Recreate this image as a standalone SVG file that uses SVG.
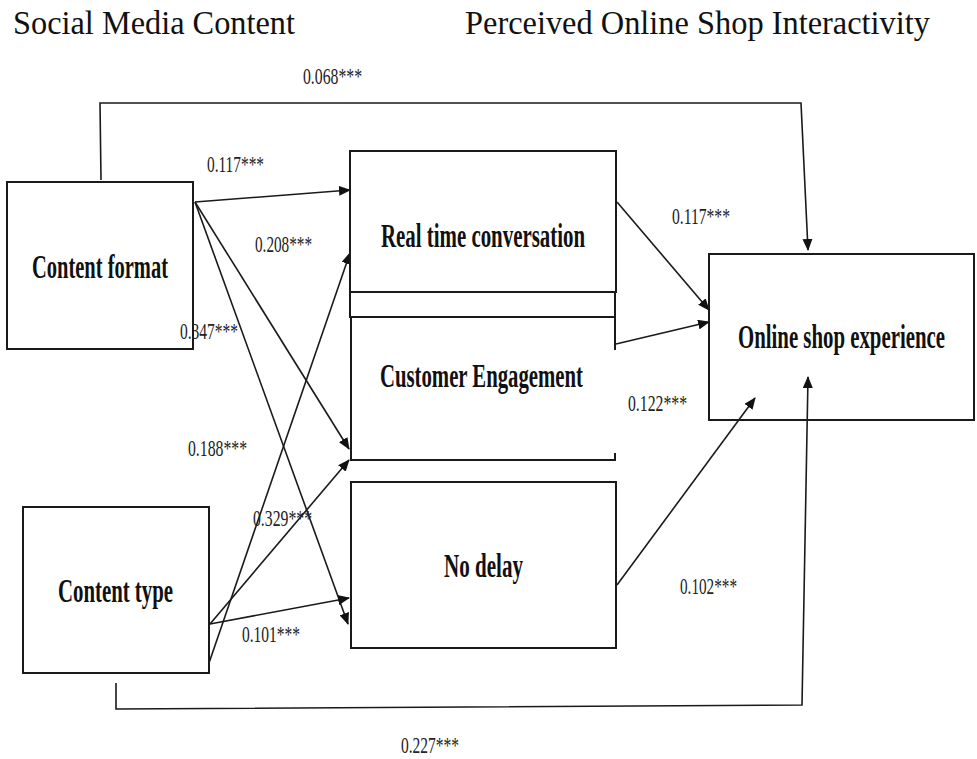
<svg xmlns="http://www.w3.org/2000/svg" width="977" height="759" viewBox="0 0 977 759">
<style>
.box{fill:none;stroke:#1a1a1a;stroke-width:2}
.edge{fill:none;stroke:#1a1a1a;stroke-width:1.6}
.head{font-family:"Liberation Serif",serif;font-size:33px;fill:#111}
.node{font-family:"Liberation Serif",serif;font-weight:bold;font-size:33px;fill:#111}
.lbl{font-family:"Liberation Serif",serif;font-size:23px;fill:#222}
</style>
<defs>
<marker id="arr" markerUnits="userSpaceOnUse" markerWidth="12" markerHeight="10" refX="11" refY="5" orient="auto">
<path d="M0,0 L12,5 L0,10 z" fill="#111"/>
</marker>
</defs>
<rect width="977" height="759" fill="#fff"/>
<text class="head" x="13" y="34" textLength="282" lengthAdjust="spacingAndGlyphs">Social Media Content</text>
<text class="head" x="465" y="34" textLength="465" lengthAdjust="spacingAndGlyphs">Perceived Online Shop Interactivity</text>
<g id="connectors">
<path class="edge" d="M101,180 L100,103 L801,103 L808,250" marker-end="url(#arr)"/>
<path class="edge" d="M116,683 L116,709 L802,705 L808,377" marker-end="url(#arr)"/>
<path class="edge" d="M195,202 L350,190" marker-end="url(#arr)"/>
<path class="edge" d="M195,202 L349,449" marker-end="url(#arr)"/>
<path class="edge" d="M195,202 L348,624" marker-end="url(#arr)"/>
<path class="edge" d="M210,624 L349,598" marker-end="url(#arr)"/>
<path class="edge" d="M210,624 L349,460" marker-end="url(#arr)"/>
<path class="edge" d="M209,663 L350,253" marker-end="url(#arr)"/>
<path class="edge" d="M617,202 L709,310" marker-end="url(#arr)"/>
<path class="edge" d="M616,344 L709,322" marker-end="url(#arr)"/>
<path class="edge" d="M617,585 L755,398" marker-end="url(#arr)"/>
</g>
<g id="content-format">
<rect class="box" x="7" y="182" width="186" height="167"/>
<text class="node" x="32" y="278" textLength="136" lengthAdjust="spacingAndGlyphs">Content format</text>
</g>
<g id="content-type">
<rect class="box" x="23" y="507" width="186" height="166"/>
<text class="node" x="58" y="602" textLength="115" lengthAdjust="spacingAndGlyphs">Content type</text>
</g>
<g id="real-time-conversation">
<rect class="box" x="350" y="151" width="266" height="141"/>
<text class="node" x="381" y="247" textLength="204" lengthAdjust="spacingAndGlyphs">Real time conversation</text>
</g>
<g id="strip">
<rect class="box" x="350" y="292" width="265" height="25"/>
</g>
<g id="customer-engagement">
<path d="M351,317 L351,460 L615,460 L615,453 M615,317 L615,350" fill="none" stroke="#1a1a1a" stroke-width="2"/>
<text class="node" x="380" y="387" textLength="203" lengthAdjust="spacingAndGlyphs">Customer Engagement</text>
</g>
<g id="no-delay">
<rect class="box" x="351" y="482" width="265" height="166"/>
<text class="node" x="444" y="577" textLength="79" lengthAdjust="spacingAndGlyphs">No delay</text>
</g>
<g id="online-shop-experience">
<rect class="box" x="709" y="254" width="265" height="166"/>
<text class="node" x="738" y="348" textLength="207" lengthAdjust="spacingAndGlyphs">Online shop experience</text>
</g>
<g id="labels">
<text class="lbl" x="303" y="84" textLength="59" lengthAdjust="spacingAndGlyphs">0.068***</text>
<text class="lbl" x="207" y="172" textLength="57" lengthAdjust="spacingAndGlyphs">0.117***</text>
<text class="lbl" x="255" y="252" textLength="57" lengthAdjust="spacingAndGlyphs">0.208***</text>
<text class="lbl" x="180" y="339" textLength="58" lengthAdjust="spacingAndGlyphs">0.347***</text>
<text class="lbl" x="188" y="456" textLength="59" lengthAdjust="spacingAndGlyphs">0.188***</text>
<text class="lbl" x="253" y="526" textLength="59" lengthAdjust="spacingAndGlyphs">0.329***</text>
<text class="lbl" x="242" y="642" textLength="58" lengthAdjust="spacingAndGlyphs">0.101***</text>
<text class="lbl" x="672" y="224" textLength="58" lengthAdjust="spacingAndGlyphs">0.117***</text>
<text class="lbl" x="628" y="411" textLength="59" lengthAdjust="spacingAndGlyphs">0.122***</text>
<text class="lbl" x="680" y="594" textLength="57" lengthAdjust="spacingAndGlyphs">0.102***</text>
<text class="lbl" x="401" y="753" textLength="58" lengthAdjust="spacingAndGlyphs">0.227***</text>
</g>
</svg>
